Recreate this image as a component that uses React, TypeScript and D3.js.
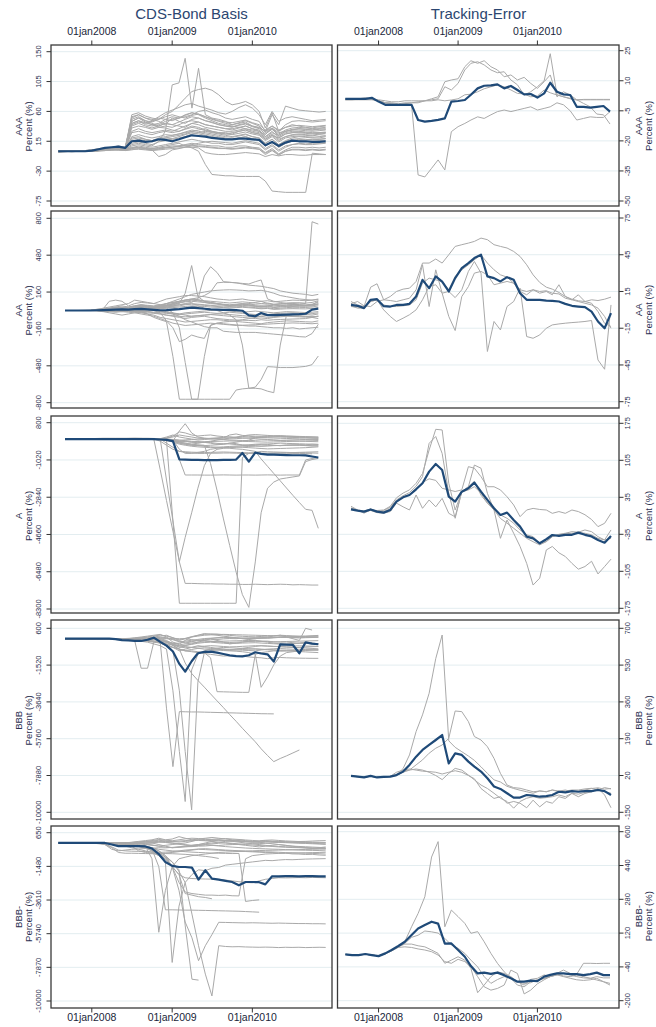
import React from "react";
import * as d3 from "d3";

const W = 656;
const H = 1027;

// monthly observations, Aug 2007 .. Dec 2010
const months = d3.range(41).map((i) => new Date(2007, 7 + i, 1));
const dateTicks = [new Date(2008, 0, 1), new Date(2009, 0, 1), new Date(2010, 0, 1)];
const ratings = ["AAA", "AA", "A", "BBB", "BBB-"];

// ---------- AAA ----------
const aaaBasisTicks = [-75, -30, 15, 60, 105, 150];
const aaaBasisMean = [0,0,0,0,0,1,3,5,6,7, 5,15,16,14,15,18,17,15,18,21, 24,23,22,20,19,18,18,19,19,18, 17,9,14,8,13,16,15,15,14,14,15];
const aaaBasisPeers = [
  [0,0,0,0,0,1,2,3,5,4, 6,52,55,50,48,45,40,50,45,42, 48,50,46,44,40,38,36,40,42,38, 35,30,38,32,36,40,38,36,35,37,38],
  [1,1,1,0,0,2,3,4,5,6, 5,48,52,46,42,38,42,40,38,36, 42,44,40,38,36,34,32,35,38,34, 30,22,28,24,30,32,34,33,32,34,33],
  [0,0,-1,0,1,1,2,3,4,5, 4,45,50,44,40,36,35,32,30,34, 38,36,32,30,28,28,26,30,32,28, 26,18,24,20,26,28,28,27,26,27,28],
  [-1,0,0,0,0,0,1,2,3,4, 3,40,44,42,45,50,48,52,50,55, 58,55,50,46,42,40,38,36,34,32, 30,25,35,22,28,30,30,29,28,28,29],
  [0,0,0,0,1,2,3,4,4,5, 5,12,14,12,10,14,16,18,20,22, 26,28,30,28,26,24,22,24,26,22, 20,12,18,10,16,20,22,21,20,20,22],
  [0,0,0,0,0,1,2,2,3,4, 3,8,10,8,6,8,10,12,14,16, 18,16,14,12,12,10,10,12,14,12, 10,2,8,0,6,10,12,11,12,12,13],
  [0,0,0,0,0,0,1,2,3,2, 2,5,6,5,4,5,6,8,8,10, 12,10,9,8,8,6,6,8,8,6, 5,-2,4,-4,2,6,6,5,6,5,6],
  [1,1,0,0,0,1,1,2,2,3, 3,6,6,4,2,-8,-5,2,4,6, 8,7,6,5,4,4,3,4,5,4, 3,-5,1,-6,0,2,2,1,2,1,2],
  [0,0,0,0,0,0,0,1,2,2, 1,3,3,2,1,2,3,4,5,6, 6,5,-2,-4,-5,-5,-4,-3,-2,-3, -4,-8,-5,-7,-5,-5,-6,-6,-5,-5,-5],
  [0,0,0,0,0,1,2,3,4,5, 4,30,34,30,28,30,32,30,34,38, 42,40,36,34,32,30,30,32,34,30, 28,20,26,18,22,24,25,24,23,25,24],
  [0,0,0,0,0,1,2,2,3,4, 3,10,12,10,8,15,30,100,103,140, 65,125,55,50,48,45,40,42,44,38, 36,30,35,28,30,32,32,31,30,31,32],
  [0,0,0,0,0,1,2,3,4,5, 4,45,50,46,44,48,55,60,70,80, 90,93,95,92,85,75,70,72,75,70, 60,35,58,30,40,45,46,45,44,45,46],
  [0,0,0,0,0,1,1,2,3,3, 2,5,8,6,4,6,8,10,12,8, 5,0,-20,-35,-36,-37,-37,-38,-38,-38, -38,-45,-60,-61,-62,-62,-62,-62,-3,-4,-5],
  [0,0,0,0,0,1,2,3,3,4, 3,42,46,40,38,40,45,48,50,52, 55,60,62,58,55,50,48,50,52,48, 45,30,55,40,68,65,62,61,60,59,60],
  [0,0,0,0,0,1,2,3,4,5, 4,50,55,50,46,52,58,62,66,70, 72,68,65,62,58,56,60,66,70,65, 55,40,60,45,50,52,50,48,46,47,48],
  [0,0,0,1,1,2,4,5,6,8, 6,20,22,18,16,20,22,24,26,28, 30,28,26,24,22,20,18,20,22,18, 16,8,14,6,12,16,18,17,18,18,19],
  [0,0,0,0,0,0,1,1,2,2, 2,4,5,4,3,4,5,6,8,9, 10,12,14,15,14,13,12,14,16,14, 12,4,10,2,8,10,11,10,10,11,12],
  [-2,-1,0,0,0,0,1,2,2,3, 3,35,38,36,33,36,38,36,40,44, 46,44,40,38,36,34,34,36,38,34, 32,22,30,20,26,28,29,28,27,28,28],
  [0,0,0,0,0,1,2,3,4,4, 3,28,30,27,25,28,30,28,30,33, 36,34,31,29,27,26,25,27,29,26, 24,16,22,14,20,22,23,22,21,22,23],
  [0,0,0,0,0,0,1,2,3,3, 2,22,25,22,20,22,25,24,26,29, 32,30,28,26,24,22,21,23,25,22, 20,12,18,10,15,18,19,18,17,18,19],
  [0,1,1,1,1,2,3,4,5,6, 5,38,42,38,35,38,42,40,44,48, 52,50,46,43,40,38,37,39,41,37, 34,26,33,24,30,33,34,33,32,33,34],
  [0,0,0,0,0,1,2,3,3,4, 3,15,18,16,14,17,20,19,22,25, 28,26,24,22,20,19,18,20,22,19, 17,8,14,6,12,15,16,15,15,16,16],
  [0,0,0,0,0,1,2,2,3,3, 2,55,58,53,50,48,52,55,52,50, 54,56,52,48,45,42,40,43,46,42, 38,28,34,26,32,35,36,35,34,35,36],
  [0,0,0,0,0,0,1,1,2,2, 1,2,4,3,2,3,5,6,7,8, 9,8,7,6,5,4,4,5,6,5, 3,-3,2,-5,0,3,3,2,3,2,3],
  [0,0,0,0,1,1,2,3,3,4, 4,18,20,18,16,18,20,22,24,26, 30,32,34,30,28,26,28,30,32,28, 26,18,24,16,22,25,26,25,24,26,27],
  [0,0,0,0,0,1,2,3,4,5, 4,42,46,43,40,42,48,46,50,54, 58,56,52,49,46,44,43,45,47,43, 40,32,38,30,36,38,39,38,37,38,39],
];
const aaaTeTicks = [-50, -35, -20, -5, 10, 25];
const aaaTeMean = [1,1,1,1,1.5,-0.4,-2,-2,-2,-2, -2,-9.6,-10.4,-10,-9.5,-8.8,-0.4,-0.1,0.4,3, 6.2,7.5,7.7,8.2,6.2,7.4,5.4,3.2,3.4,1.6, 3.7,9,4.5,3.2,2.9,-3,-3,-3.4,-3,-2.6,-5.4];
const aaaTePeers = [
  [0.5,0.5,0.8,1,1,0,-1,-1.5,-2,-1.5, -1,-1,0,1,2,9.5,10.4,11,17,20, 18.7,20,17,15.4,12,12.9,10.4,11.7,8.7,6.2, 9.5,12.9,2,4.5,2.9,0.5,0.5,0.5,0.5,0.5,0.5],
  [1,1,1,1.5,1,0,-1,-1,-1.5,-1, -1,-0.5,0,0.5,1,7,5.4,8.7,15.4,18.7, 19.5,17.9,15.4,14,14.5,10.4,8,2.9,4.5,7, 10,23.5,3,2,1,0.5,-1.3,-3,-6.6,-7,-11.6],
  [1,1,1,1,1,0.5,0,-0.5,-0.5,0, 0,0,0,0,0.5,0,0.4,1,3,3.3, 4.5,6,7,7.9,7,5.4,3.7,3.4,2,2.4, 5.4,4,2.9,2,1.2,0.4,0.7,0.7,0.7,0.7,0.7],
  [0.5,0.5,0.5,0.5,0.5,0,-1,-1.5,-2,-1.5, -2,-37,-38,-33.7,-29.5,-34.5,-15.4,-12.9,-11.3,-9.6, -8,-8.8,-7,-5.4,-4.6,-5.4,-4.6,-3.8,-3,-4.6, -3.8,-3,-1,-2,-5,-9.6,-8.8,-8,-8.3,-8.3,-5.4],
];

// ---------- AA ----------
const aaBasisTicks = [-800, -480, -160, 160, 480, 800];
const aaBasisMean = [0,0,0,0,0,2,4,6,8,10, 8,12,14,10,6,2,4,8,12,18, 25,20,15,10,8,5,5,4,-2,-43, -50,-22,-40,-40,-38,-36,-34,-32,-28,8,16];
const aaBasisPeers = [
  [0,0,0,2,5,10,15,80,90,80, 40,60,70,65,60,50,40,60,80,90, 100,95,80,70,60,50,40,45,50,60, 70,80,60,50,55,60,60,65,60,770,750],
  [0,0,0,0,0,-5,-10,-20,-30,-40, -30,-20,-10,-30,-60,-80,-97,-400,-770,-770, -770,-770,-770,-770,-770,-770,-770,-690,-680,-675, -675,-680,-700,-713,-300,-40,-50,-45,-50,-55,-50],
  [0,0,0,0,0,0,5,10,5,0, -10,-5,0,10,20,30,20,-20,-150,-450, -770,-770,-400,-130,-110,-100,-95,-90,-80,-70, -60,-50,-40,-40,-35,-40,-30,-30,-35,-40,-30],
  [0,0,0,0,0,5,10,15,20,10, 0,10,20,10,0,-20,-90,-150,-270,-250, -213,-230,-242,-126,-110,-115,-120,-125,-130,-135, -135,-140,-145,-150,-150,-155,-150,-160,-155,-150,-145],
  [0,0,0,0,0,0,0,5,10,15, 10,5,0,5,10,20,30,20,10,20, 30,40,20,10,0,-20,-40,-80,-300,-675, -665,-600,-487,-490,-495,-495,-495,-490,-485,-470,-395],
  [0,0,0,0,0,5,10,20,30,20, 10,30,40,30,20,30,40,50,60,150, 390,120,80,70,60,50,40,50,60,50, 40,30,40,50,45,40,35,40,45,50,55],
  [0,0,0,0,0,0,5,10,15,20, 15,20,25,20,15,25,30,40,50,60, 70,100,300,380,330,250,245,240,230,220, 215,210,200,190,170,160,150,145,140,130,140],
  [0,0,0,0,0,5,10,20,30,40, 30,40,50,45,40,50,60,70,80,90, 100,110,130,160,240,245,244,240,235,230, 250,265,100,80,70,60,55,50,45,40,60],
  [0,0,0,0,0,0,-5,-10,-10,-5, 0,5,10,5,0,-10,-20,-30,-50,-80, -100,-120,-140,-150,-150,-180,-185,-190,-190,-190, -190,-195,-200,-205,-210,-215,-220,-227,-230,-200,-120],
  [0,0,0,0,0,10,20,30,40,50, 60,90,80,70,60,80,100,110,120,130, 130,125,120,110,100,95,90,95,100,90, 85,80,85,75,80,85,90,88,85,90,100],
  [0,0,0,0,0,0,5,10,15,10, 5,15,25,20,15,20,30,35,40,50, 55,50,45,40,35,30,30,32,35,30, 25,20,25,15,20,25,28,27,26,30,40],
  [0,0,0,0,0,0,-5,-10,-15,-10, -5,-10,-20,-30,-40,-60,-70,-80,-90,-100, -95,-90,-85,-80,-80,-85,-90,-95,-100,-105, -110,-115,-105,-100,-95,-90,-92,-95,-98,-100,-90],
  [0,0,0,0,0,0,0,5,10,5, 0,-5,0,5,10,0,-10,-20,-30,-40, -50,-45,-40,-35,-30,-30,-35,-40,-45,-50, -55,-50,-60,-55,-50,-45,-48,-50,-52,-55,-50],
  [0,0,0,0,0,5,10,15,20,25, 30,40,50,40,30,40,50,60,70,80, 90,85,70,60,55,50,45,48,50,45, 40,35,40,30,35,40,45,44,42,50,80],
  [0,0,0,0,0,5,10,15,20,25, 20,30,40,35,30,40,60,80,100,120, 140,150,160,170,175,178,180,178,175,170, 172,175,165,150,130,120,110,100,95,90,95],
  [0,0,0,0,0,0,0,0,5,5, 5,0,-5,-10,-20,-30,-40,-50,-60,-70, -60,-55,-50,-60,-70,-75,-80,-82,-84,-86, -88,-80,-85,-80,-78,-76,-74,-72,-70,-60,-70],
  [0,0,0,0,0,0,5,10,20,15, 10,20,30,25,20,30,40,45,50,55, 60,55,50,45,40,40,35,40,45,40, 35,30,35,25,30,35,38,37,36,40,50],
  [0,0,0,0,0,0,-5,-5,-10,-5, 0,-10,-15,-20,-25,-30,-40,-45,-50,-55, -50,-45,-40,-35,-40,-45,-50,-55,-60,-65, -70,-65,-70,-60,-55,-50,-52,-55,-58,-60,-50],
  [0,0,0,0,0,5,5,10,10,15, 20,25,35,30,25,35,45,55,65,75, 80,75,70,65,60,55,50,55,60,55, 50,45,50,40,45,50,52,50,48,55,70],
  [0,0,0,0,0,0,0,-5,-5,0, 5,0,-5,-10,-15,-20,-25,-30,-35,-30, -25,-20,-15,-20,-25,-20,-15,-20,-25,-30, -35,-30,-35,-28,-25,-22,-20,-25,-30,-28,-20],
  [0,0,0,0,0,0,5,5,10,10, 5,10,15,12,10,15,20,25,30,35, 40,38,35,30,28,25,22,25,28,24, 20,15,18,10,12,15,16,15,14,18,25],
  [0,0,0,0,0,0,0,0,-5,-10, -15,-20,-30,-40,-50,-70,-90,-110,-120,-130, -125,-120,-115,-110,-115,-120,-125,-130,-128,-126, -124,-120,-118,-115,-112,-110,-108,-110,-112,-115,-110],
  [0,0,0,0,0,5,10,15,25,30, 25,35,45,40,35,45,60,70,80,90, 95,90,85,80,75,70,65,70,75,70, 65,60,65,55,60,65,68,66,64,70,85],
  [0,0,0,0,0,0,0,5,5,5, 0,-5,-10,-5,0,-5,-15,-25,-30,-20, -15,-10,-5,0,5,0,-5,-10,-15,-10, -5,-10,-15,-20,-15,-10,-12,-15,-18,-15,-10],
];
const aaTeTicks = [-75, -45, -15, 15, 45, 75];
const aaTeMean = [4,3.3,1.4,8.2,8.7,3,2.7,4,4,4.9, 10.9,24.5,17.7,27.3,23,15,25.9,34,38.2,42.3, 45,27.3,25.9,23.2,26.7,24.5,13.6,8.2,8.2,8.2, 7.6,7.4,6.8,4.9,3.3,2.7,2.2,-1.4,-9.5,-15,-2.7];
const aaTePeers = [
  [6.8,4,2.7,18.5,21.3,8.2,10.9,15,16.9,17.7, 23.2,38.2,38.2,41.5,38.2,45,51.8,53.2,54.5,55.9, 58.6,57.3,53.2,51.8,50.5,47.7,43.6,36.8,28.6,22.4, 18.5,16.9,14.2,10.9,8.7,7.4,6.8,8.2,7.6,8.7,10.4],
  [5,6.8,3.3,2.7,6.8,8.2,7.6,6.8,8.2,9.5, 16.4,36.8,2.7,32.7,13.6,15,10,16.4,31.4,39.5, 30,-34,-9.5,-16.4,2.7,6.8,17.7,-21.8,-23.2,-20.5, -15,-12.3,-11.5,-10.9,-10.4,-10,-9.5,-8.7,-40.9,-48.5,4],
  [2.7,2.2,1.4,6.8,8.2,4,2.7,2.7,3.3,4, 8.2,21.8,25.9,24.5,23.2,16.4,27.3,32.7,36.8,40.9, 45,38.2,32.7,28.6,26.7,21.8,16.4,15,16.4,13.6, 15,12.3,20.5,10.9,8.2,12.3,6.8,5.4,-1.4,-11,-13.6],
  [3.3,1.4,1.4,6.8,8.2,0,-5.4,-9.5,-6.8,-4, 0,8.2,19,20.5,13.6,-5.4,-16.9,10.9,19,30, 31.4,28.6,20.5,21.8,23.2,21.8,15,12.3,16.4,15, 15.6,13.6,13,9.5,8.2,6.8,5.4,4,1.4,-5.4,-15],
];

// ---------- A ----------
const aBasisTicks = [-8300, -6480, -4660, -2840, -1020, 800];
const aBasisMean = [0,0,0,0,0,0,0,0,0,0, 0,0,0,0,0,-20,-40,-100,-990,-1000, -1020,-1020,-1030,-1030,-1030,-1020,-1020,-1000,-680,-1100, -660,-720,-760,-760,-770,-780,-790,-790,-800,-850,-900];
const aBasisPeers = [
  [0,0,0,0,0,0,0,0,0,0, 0,0,0,0,0,0,-50,-4000,-8020,-8020, -8020,-8020,-8020,-8020,-8020,-8020,-8020,-8020,-900,-700, -650,-600,-620,-630,-640,-650,-660,-660,-670,-680,-690],
  [0,0,0,0,0,0,0,0,0,0, 0,0,0,0,-30,0,-2000,-4000,-6000,-7050, -7050,-7060,-7070,-7070,-7080,-7080,-7090,-7090,-7100,-7100, -7090,-7100,-7110,-7100,-7090,-7100,-7120,-7110,-7120,-7130,-7130],
  [0,0,0,0,0,0,0,0,0,0, 0,0,0,0,0,-1500,-3000,-4500,-5990,-4800, -3600,-2400,-1300,-700,-500,-450,-420,-400,-380,-360, -350,-340,-330,-320,-310,-300,-290,-300,-310,-320,-330],
  [0,0,0,0,0,0,0,0,0,0, 0,0,0,0,0,0,-30,-80,-150,-200, -250,-280,-300,-1200,-2500,-3900,-5200,-6500,-7600,-8220, -6000,-3600,-2400,-2100,-1950,-1900,-1850,-1800,-1100,-1000,-950],
  [0,0,0,0,0,0,0,0,0,0, 0,0,0,0,0,0,0,-100,-1000,-1755, -1755,-1755,-1760,-1760,-1755,-1750,-1755,-1760,-1755,-1755, -1760,-1755,-1750,-1755,-1760,-1755,-1755,-1755,-1020,-950,-900],
  [0,0,0,0,0,0,0,0,0,0, 0,0,0,0,0,0,-50,-100,-200,-250, -300,-320,-350,-380,-400,-420,-450,-480,-500,-550, -600,-970,-1330,-1680,-2040,-2390,-2750,-3100,-3430,-3480,-4360],
  [0,0,0,0,0,0,0,0,0,0, 0,0,0,0,-20,-50,-80,-100,400,750, 300,100,50,20,0,-20,-50,-60,-70,-80, -60,-40,-50,-60,-70,-80,-90,-100,-110,-120,-130],
  [20,20,20,20,20,30,40,40,40,40, 40,40,40,40,30,20,0,-100,-200,-250, -300,-310,-320,-300,-280,-250,-200,-150,-100,-50, 50,100,120,110,100,90,80,70,60,50,40],
  [0,0,0,0,0,0,0,0,0,0, 10,20,30,20,10,0,-200,-400,-600,-650, -680,-700,-700,-690,-690,-680,-680,-690,-700,-700, -700,-690,-690,-680,-680,-690,-700,-700,-710,-720],
  [0,0,0,0,0,0,0,0,0,0, 0,0,0,0,0,0,-50,-100,-150,-200, -250,-200,-150,-100,-50,0,50,100,150,200, 220,200,180,160,150,140,130,120,110,100,90],
  [0,0,0,0,0,0,0,10,10,0, 0,0,0,10,20,0,-30,-80,-120,-100, -150,-180,-160,-200,-260,-240,-200,-220,-300,-280, -250,-240,-260,-300,-320,-310,-290,-300,-320,-340,-330],
  [0,0,0,0,0,0,0,0,10,20, 30,40,30,20,10,20,50,150,350,300, 200,150,180,200,150,120,100,80,120,150, 100,80,90,110,130,120,100,90,80,60,50],
  [0,0,0,0,0,0,0,0,0,0, 0,0,0,0,0,0,0,-50,-500,-700, -700,-650,-600,-500,-450,-420,-400,-380,-400,-420, -440,-460,-480,-470,-460,-450,-440,-430,-420,-400,-380],
  [0,0,0,0,0,0,0,0,0,0, 0,0,0,0,0,20,100,200,100,50, 0,-50,-20,0,30,60,200,250,180,150, 140,130,150,160,170,150,140,130,120,110,100],
  [0,0,0,0,0,0,0,0,0,0, 0,0,0,0,0,0,-20,-50,-100,-120, -150,-140,-130,-120,-110,-100,-90,-100,-110,-120, -130,-140,-150,-140,-130,-120,-110,-100,-90,-80,-70],
  [0,0,0,0,0,0,0,0,0,0, 0,0,0,0,0,0,0,-20,-50,-80, -110,-120,-160,-170,-210,-230,-240,-270,-280,-310, -320,-350,-330,-310,-320,-290,-300,-270,-280,-250,-260],
  [0,0,0,0,0,0,0,0,0,0, 0,0,0,0,0,0,50,100,200,150, 100,50,30,20,10,0,10,20,40,60, 80,70,60,50,40,30,20,10,0,-10,-20],
  [0,0,0,0,0,0,0,0,0,0, 0,0,0,0,0,-100,-300,-500,-600,-620, -640,-650,-660,-650,-640,-630,-640,-650,-660,-670, -680,-690,-700,-690,-680,-670,-660,-650,-640,-630,-620],
  [0,0,0,0,0,0,0,0,0,0, 0,0,0,0,0,0,0,-30,-60,-40, -20,0,20,40,60,80,100,80,60,40, 20,0,-20,-40,-60,-50,-40,-30,-20,-10,0],
  [0,0,0,0,0,0,0,0,0,0, 0,0,0,0,0,0,-50,-150,-250,-300, -350,-380,-400,-420,-400,-380,-360,-340,-320,-300, -280,-260,-240,-220,-200,-210,-220,-230,-240,-250,-260],
];
const aTeTicks = [-175, -105, -35, 35, 105, 175];
const aTeMean = [12.3,9.8,7.9,12,7.9,6,11,26.8,35,39.4, 50.1,61.5,83.6,98,86.7,36.3,26.8,45.7,52,62.8, 45.7,30,14.2,1.6,6,-7.9,-20.5,-39.4,-42.6,-52, -44.4,-36.3,-38,-36,-36,-31.8,-36,-39,-45.7,-50.8,-38];
const aTePeers = [
  [18,11,5,11,10,11,18,34,43,49, 61.5,80,124.5,163.6,162.4,61.5,11,45,49,55, 43,24,11,-5,-14,-23.6,-33,-42.6,-49,-55, -49,-39.4,-36,-34,-33,-32,-33,-36,-42.6,-45.7,-26.8],
  [15,10,7,12,9,10,16,30,38,44, 56,74,137,150,118,42.6,-4.7,45.7,55,65, 39,24,14,1.6,-4.7,-14,-26.8,-36,-39.4,-52, -48.5,-39.4,-35,-33,-30,-31,-26.8,-30,-39.4,-45.7,-42.6],
  [14,11,9,13,8,8,13,28,36,40, 52,63,70,67,52,49,46,49,93,90, 74,55,55,49,36,20.5,-1.6,11,14,12, 11,4.7,8,4.7,11,8,2,-7,-20.5,-14.2,4.7],
  [13,10,8,10,6,5,8,24,17,11, 39.4,14.2,30,17,33,4.7,-2,45.7,55,96, 90,42.6,11,-42.6,-8,-33,-58,-90,-131,-118, -64.6,-58,-70,-77,-90,-101,-96,-86,-110,-96,-82],
];

// ---------- BBB ----------
const bbbBasisTicks = [-10000, -7880, -5760, -3640, -1520, 600];
const bbbBasisMean = [0,0,0,0,0,0,0,0,-20,-80, -100,-120,-130,-60,60,-180,-400,-740,-1450,-1900, -1300,-840,-760,-745,-800,-880,-960,-1000,-1020,-950, -780,-850,-900,-1320,-322,-340,-360,-840,-210,-280,-320];
const bbbBasisPeers = [
  [0,0,0,0,0,0,0,0,-50,-80, -100,-100,-1700,-1700,-200,-100,-200,-300,-250,-200, -150,-100,-120,-150,-180,-200,-220,-200,-180,-160, -150,-140,-160,-180,-170,-160,-150,-140,-130,-120,-110],
  [0,0,0,0,0,0,0,0,0,-50, -60,-80,-100,-120,-150,-200,-4000,-7370,-4200,-4210, -4220,-4220,-4230,-4240,-4250,-4260,-4270,-4280,-4290,-4300, -4310,-4320,-4325,-4330],
  [0,0,0,0,0,0,0,0,0,0, -50,-100,-150,-200,-300,-400,-600,-3000,-6500,-9380, -1800,-900,-700,-600,-550,-500,-520,-540,-560,-580, -600,-620,-640,-660,-680,-700,-720,-740,-760,-780,-800],
  [0,0,0,0,0,0,0,0,0,0, 0,-50,-100,-150,-200,-250,-300,-700,-3000,-6500, -9860,-2500,-800,-700,-650,-600,-620,-640,-660,-680, -700,-650,-600,-580,-560,-540,-520,-500,-480,-460,-450],
  [0,0,0,0,0,0,0,0,0,0, 0,0,-50,-100,-150,-250,-400,-500,-600,-1400, -2000,-2400,-2790,-3180,-3580,-3970,-4370,-4760,-5160,-5550, -5940,-6340,-6730,-7080,-6900,-6750,-6580,-6410],
  [0,0,0,0,0,0,0,0,0,0, 0,0,-50,-100,-150,-250,-400,-500,-600,-700, -700,-750,-800,-1100,-3050,-3060,-3070,-3080,-3090,-3090, -900,-800,-750,-700,-720,-700,-680,-660,-650,-640,-630],
  [0,0,0,0,0,0,0,0,0,0, 0,-30,-60,-100,-150,-200,-300,-350,-400,-450, -500,-550,-600,-620,-650,-680,-700,-720,-750,-800, -900,-2800,-2200,-1500,-1000,-800,-750,-700,-680,-660,-650],
  [0,0,0,0,0,0,0,0,0,0, 0,0,-20,-40,-60,-100,-200,-400,-600,-700, -750,-800,-850,-900,-950,-1000,-980,-990,-1000,-1050, -1080,-1100,-1150,-1100,-1080,-1100,-1110,-1120,-1125,-1130,-1130],
  [0,0,0,0,0,0,0,0,0,0, 0,50,100,150,200,250,100,-200,-300,-100, 100,200,300,250,200,150,100,50,0,-50, 0,50,100,150,200,100,0,-100,600,500],
  [0,0,0,0,0,0,0,0,0,0, -50,-100,-50,0,50,0,-100,-300,-500,-400, -300,-200,-100,0,-100,-200,-300,-250,-200,-150, -100,-150,-200,-250,-300,-350,-300,-250,-200,-250,-300],
  [0,0,0,0,0,0,0,0,0,0, 0,0,0,0,0,-100,-300,-500,-700,-600, -500,-400,-450,-500,-550,-600,-650,-600,-550,-500, -450,-400,-420,-440,-460,-480,-500,-520,-540,-560,-580],
  [0,0,0,0,0,0,0,0,0,0, 20,40,60,80,100,150,200,50,-100,0, 100,150,200,220,240,250,240,230,220,210, 200,190,180,170,160,150,140,130,120,110,100],
  [0,0,0,0,0,0,0,0,0,0, 0,0,-20,-40,-60,-80,-150,-250,-350,-300, -250,-200,-180,-160,-150,-140,-130,-120,-110,-100, -120,-150,-140,-180,-200,-190,-230,-260,-250,-300,-310],
  [0,0,0,0,0,0,0,0,0,0, 0,0,0,0,0,0,0,0,0,0, -50,-120,-90,-60,-50,-10,10,0,30,50, 60,40,30,50,80,70,60,50,60,70,80],
  [0,0,0,0,0,0,0,0,0,0, 0,0,-30,-10,40,90,60,-20,-150,-250, -180,-90,-40,10,60,90,70,55,30,15, 5,25,45,70,90,110,115,130,150,170,190],
  [0,0,0,0,0,0,0,0,0,-20, -40,-60,-50,-30,0,-50,-150,-300,-420,-380, -330,-260,-220,-200,-230,-260,-280,-270,-250,-240, -230,-250,-270,-290,-310,-300,-280,-270,-260,-270,-290],
  [0,0,0,0,0,0,0,0,0,0, 0,10,30,50,80,60,20,-60,-180,-140, -90,-40,10,30,40,60,50,40,20,10, 30,50,60,70,90,80,70,60,70,90,100],
  [0,0,0,0,0,0,0,0,0,0, 0,0,-10,-30,-50,-100,-200,-350,-480,-520, -500,-470,-430,-400,-420,-450,-470,-460,-440,-420, -400,-410,-430,-450,-440,-430,-420,-410,-420,-430,-440],
  [0,0,0,0,0,0,0,0,0,0, 0,20,60,110,160,210,150,60,-50,20, 120,190,250,280,270,230,190,160,140,120, 110,130,150,170,200,180,160,150,140,150,160],
  [0,0,0,0,0,0,0,0,0,0, -30,-60,-80,-60,-20,-80,-200,-380,-600,-680, -620,-560,-520,-560,-600,-640,-670,-650,-620,-600, -580,-600,-620,-640,-660,-650,-640,-630,-620,-640,-660],
];
const bbbTeTicks = [-150, 20, 190, 360, 530, 700];
const bbbTeMean = [18,15,11.6,18,11,14,15,22,38,69, 107,138,161,184,207,76,122,115,84,61, 38,7,-31,-42,-62,-82,-82,-70,-73,-78, -75,-70,-55,-58,-52,-55,-52,-52,-47,-52,-70];
const bbbTePeers = [
  [18,15,12,18,12,14,15,22,52,115, 223,300,400,560,669,180,150,130,110,90, 60,30,0,-10,-30,-40,-48,-55,-62,-51, -55,-47,-52,-47,-55,-52,-47,-40,-37,-43,-40],
  [18,16,12,16,12,14,16,24,40,45, 69,92,123,146,161,192,318,315,269,200, 184,153,99,30,-24,-36,-39,-47,-55,-52, -55,-47,-55,-52,-47,-47,-42,-39,-47,-36,-42],
  [18,15,12,18,12,14,16,35,45,50, 45,40,38,35,27,35,42,35,20,5, -40,-63,-86,-78,-108,-100,-108,-129,-94,-125, -100,-108,-78,-86,-63,-78,-63,-55,-39,-70,-129],
  [18,14,12,17,11,13,15,20,35,45, 50,45,35,20,1,30,53,45,22,0, -24,-40,-62,-85,-100,-131,-100,-85,-78,-85, -82,-78,-70,-78,-62,-66,-58,-55,-42,-55,-62],
];

// ---------- BBB- ----------
const bbbmBasisTicks = [-10000, -7870, -5740, -3610, -1480, 650];
const bbbmBasisMean = [0,0,0,0,0,0,0,0,-100,-200, -200,-200,-200,-220,-350,-700,-1200,-1450,-1520,-1520, -1560,-2320,-1725,-2255,-2320,-2400,-2470,-2680,-2470,-2470, -2480,-2620,-2110,-2110,-2100,-2100,-2110,-2100,-2100,-2110,-2110];
const bbbmBasisPeers = [
  [0,0,0,0,0,0,0,0,-100,-200, -200,-200,-200,-200,-1000,-5650,-3000,-1500,-1000,-900, -800,-750,-700,-650,-600,-580,-560,-540,-520,-500, -480,-470,-460,-450,-440,-430,-420,-410,-400,-390,-380],
  [0,0,0,0,0,0,0,0,0,0, -200,-220,-250,-300,-500,-800,-1200,-7560,-4000,-2500, -2000,-1700,-1750,-1600,-1550,-1400,-1350,-1300,-1250,-1200, -1150,-1100,-1120,-1080,-1050,-1060,-1040,-1020,-1010,-1000,-990],
  [0,0,0,0,0,0,0,0,0,0, -100,-150,-200,-300,-400,-600,-900,-1200,-1700,-5200, -8620,-8680],
  [0,0,0,0,0,0,0,0,0,0, -100,-150,-200,-250,-300,-500,-800,-1200,-1800,-2500, -4500,-6500,-8300,-9680,-6500,-6550,-6570,-6560,-6580,-6590, -6600,-6590,-6600,-6620,-6600,-6610,-6600,-6620,-6610,-6600,-6610],
  [0,0,0,0,0,0,0,0,0,0, 0,-50,-100,-200,-300,-500,-800,-1500,-3000,-5000, -6000,-7450,-6500,-5800,-5020,-5030,-5040,-5050,-5060,-5050, -5060,-5070,-5080,-5070,-5080,-5090,-5100,-5100,-5110,-5110,-5120],
  [0,0,0,0,0,0,0,0,0,0, -100,-150,-200,-300,-400,-1500,-4230,-4230,-4240,-4250, -4250,-4260,-4270,-4280,-4290,-4300,-4310,-4320,-4340,-4360, -4380],
  [0,0,0,0,0,0,0,0,0,0, -200,-300,-400,-500,-600,-800,-1000,-1500,-2000,-3200, -3300,-3400,-3450,-3530],
  [0,0,0,0,0,0,0,0,0,0, -50,-100,-150,-200,-300,-400,-450,-500,-520,-550, -580,-600,-620,-640,-650,-660,-670,-665,-3700,-3640, -3600],
  [0,0,0,0,0,0,0,0,0,0, -50,-100,-200,-300,-500,-700,-1000,-1500,-2500,-3100, -3200,-3250,-3300,-3300,-3320,-3300,-3340,-3350,-1000,-800, -750,-700,-680,-660,-650,-640,-630,-620,-610,-600,-590],
  [0,0,0,0,0,0,0,0,0,0, -50,-100,-200,-300,-400,-600,-900,-1500,-2000,-2200, -2250,-2270,-2280,-2290,-2300,-2350,-2400,-2450,-2500,-2520, -2400,-2300,-2250,-2200,-2210,-2200,-2190,-2200,-2180,-2190,-2200],
  [0,0,0,0,0,0,0,0,0,-100, -100,-200,-500,-600,-650,-660,-670,-680,-700,-720, -750,-800,-850,-900,-980],
  [0,0,0,0,0,0,0,0,0,0, 0,50,100,150,200,300,200,250,400,300, 200,250,300,350,300,250,200,150,100,50, 100,150,100,80,60,40,20,0,-20,-40,-60],
  [0,0,0,0,0,0,-50,-100,-300,-600, -650,-650,-660,-670,-680,-700,-650,-600,-550,-500, -450,-400,-420,-440,-460,-480,-500,-520,-540,-560, -580,-610,-600,-650,-640,-690,-700,-730,-720,-760,-780],
  [0,0,0,0,0,0,0,0,0,0, 0,0,-50,-100,-150,-200,-150,-100,-50,0, 100,200,150,100,50,0,-50,-100,-150,-200, -250,-200,-150,-100,-150,-200,-250,-300,-350,-300,-250],
  [0,0,0,0,0,0,0,0,0,0, 0,20,40,60,80,100,50,0,-50,-100, -150,-100,-50,0,50,100,150,200,150,100, 50,0,-50,-100,-150,-200,-220,-240,-260,-280,-300],
  [0,0,0,0,0,0,0,0,0,0, 0,0,0,0,0,-100,-200,-300,-250,-200, -150,-100,0,100,200,150,100,50,0,-50, -100,-150,-200,-220,-240,-260,-280,-300,-320,-340,-360],
  [0,0,0,0,0,0,0,-100,-400,-500, -450,-400,-380,-350,-340,-300,-310,-280,-250,-240, -230,-200,-190,-150,-160,-120,-100,-90,-60,-50, -40,-20,10,30,50,60,90,100,120,140,150],
  [0,0,0,0,0,0,0,0,-50,-100, -80,-60,-40,-20,0,50,100,80,120,150, 180,160,140,160,180,150,120,100,80,60, 70,90,110,100,80,60,40,30,20,10,0],
  [0,0,0,0,0,0,-20,-60,-250,-450, -500,-520,-530,-540,-560,-600,-580,-550,-500,-450, -420,-380,-360,-390,-420,-450,-470,-490,-510,-530, -550,-560,-570,-590,-610,-620,-640,-650,-660,-680,-700],
  [0,0,0,0,0,0,0,0,0,0, 10,30,60,100,150,220,180,140,200,260, 300,280,250,230,260,280,250,220,190,160, 140,170,190,160,130,110,90,70,50,40,30],
  [0,0,0,0,0,0,0,0,0,0, 0,0,-30,-70,-120,-200,-260,-300,-280,-240, -200,-160,-120,-150,-190,-230,-260,-290,-320,-340, -360,-370,-390,-400,-420,-430,-450,-460,-470,-480,-500],
  [0,0,0,0,0,0,0,0,0,-50, -60,-40,-20,0,20,60,30,-20,-80,-140, -180,-150,-100,-60,-20,10,-20,-60,-100,-130, -160,-190,-220,-250,-270,-290,-300,-320,-330,-350,-370],
  [0,0,0,0,0,0,0,0,0,0, 0,20,50,80,120,170,130,90,60,100, 140,190,230,210,180,160,140,120,90,70, 50,80,60,40,20,0,-20,-30,-50,-70,-90],
];
const bbbmTeTicks = [-200, -40, 120, 280, 440, 600];
const bbbmTeMean = [19,16,16,21,16,11,24,40,59,79, 111,142,158,174,165,70,71,40,8,-36, -71,-67,-73,-67,-79,-94,-110,-110,-105,-107, -86,-78,-71,-71,-74,-74,-79,-74,-67,-79,-79];
const bbbmTePeers = [
  [19,16,16,20,16,12,24,35,55,80, 150,213,292,480,553,150,229,198,166,119, 127,79,24,-23,-63,-94,-110,-118,-115,-100, -95,-86,-70,-55,-71,-74,-23,-23,-24,-23,-23],
  [19,16,16,20,16,12,22,38,55,72, 100,110,130,126,120,95,64,48,24,-8, -40,-86,-118,-100,-86,-94,-126,-134,-110,-103, -95,-86,-78,-71,-78,-86,-92,-94,-86,-92,-92],
  [19,16,16,20,16,12,24,40,55,68, 68,60,55,40,24,-23,-8,8,-8,-47, -162,-126,-86,-63,-71,-86,-110,-126,-99,-94, -78,-86,-74,-83,-86,-78,-86,-94,-102,-110,-118],
  [19,16,16,20,16,12,22,36,52,55, 52,45,40,32,16,-15,-23,-4,-15,-39, -86,-134,-150,-142,-126,-55,-71,-168,-150,-120, -101,-86,-78,-86,-94,-101,-104,-101,-94,-110,-126],
];

// ---------- layout ----------
const rowBox = [[45, 206], [211, 408], [416, 613], [620, 819], [826, 1008]];
const leftTickPx = [[201, 51.7], [402.7, 218.3], [609, 422.7], [812.3, 628.3], [1001, 832.7]];
const rightTickPx = [[201, 50.7], [401.7, 218], [608.3, 423.3], [812.3, 628.3], [1000.7, 831.7]];
const font = "'Liberation Sans', Arial, Helvetica, sans-serif";
const fmtDate = d3.timeFormat("%d%b%Y");

type Series = (number | null)[];

function Panel({ side, row, ticks, mean, peers }: { side: string; row: number; ticks: number[]; mean: Series; peers: Series[] }) {
  const left = side === "left";
  const [top, bottom] = rowBox[row];
  const [bx0, bx1] = left ? [51, 332] : [337.5, 619];
  const edge = row === 0 || row === 4;
  const xr = left ? (edge ? [58.2, 325.7] : [65, 318.3]) : edge ? [345.3, 610] : [351, 611];
  const x = d3.scaleTime().domain([months[0], months[40]]).range(xr);
  const y = d3
    .scaleLinear()
    .domain([ticks[0], ticks[ticks.length - 1]])
    .range(left ? leftTickPx[row] : rightTickPx[row]);
  const line = d3
    .line<number | null>()
    .defined((v) => v !== null && v !== undefined)
    .x((_, i) => x(months[i]))
    .y((v) => y(v as number));
  const axisX = left ? bx0 : bx1;
  const dir = left ? -1 : 1;
  const midY = (y(ticks[0]) + y(ticks[ticks.length - 1])) / 2;
  const clipId = `clip-${side}-${row}`;
  const txt = "#2a2f4f";
  return (
    <g>
      <defs>
        <clipPath id={clipId}>
          <rect x={bx0} y={top} width={bx1 - bx0} height={bottom - top} />
        </clipPath>
      </defs>
      {ticks.map((t) => (
        <line key={"g" + t} x1={bx0} x2={bx1} y1={y(t)} y2={y(t)} stroke="#e3edf0" strokeWidth={1} />
      ))}
      <g clipPath={`url(#${clipId})`} fill="none" strokeLinejoin="round">
        {peers.map((s, k) => (
          <path key={k} d={line(s) ?? ""} stroke="#a9a9a9" strokeWidth={1} />
        ))}
        <path d={line(mean) ?? ""} stroke="#1f4a78" strokeWidth={2.2} />
      </g>
      <rect x={bx0} y={top} width={bx1 - bx0} height={bottom - top} fill="none" stroke="#3a3a3a" strokeWidth={1.3} />
      {ticks.map((t) => (
        <g key={"t" + t}>
          <line x1={axisX} x2={axisX + dir * 4.5} y1={y(t)} y2={y(t)} stroke="#333" strokeWidth={1} />
          <text
            transform={`translate(${left ? 38 : 627.5},${y(t)}) rotate(-90)`}
            textAnchor="middle"
            dominantBaseline="central"
            fontSize={7.5}
            fill={txt}
          >
            {t}
          </text>
        </g>
      ))}
      <text transform={`translate(${left ? 18 : 638},${midY}) rotate(-90)`} textAnchor="middle" dominantBaseline="central" fontSize={9.5} fill={txt}>
        {ratings[row]}
      </text>
      <text transform={`translate(${left ? 28 : 648},${midY}) rotate(-90)`} textAnchor="middle" dominantBaseline="central" fontSize={9.5} fill={txt}>
        Percent (%)
      </text>
      {row === 0 &&
        dateTicks.map((d) => (
          <g key={"xt" + d.getFullYear()}>
            <line x1={x(d)} x2={x(d)} y1={top} y2={top - 4.5} stroke="#333" />
            <text x={x(d)} y={35} textAnchor="middle" fontSize={10.5} fill="#1a1f3a">
              {fmtDate(d).toLowerCase()}
            </text>
          </g>
        ))}
      {row === 4 &&
        dateTicks.map((d) => (
          <g key={"xb" + d.getFullYear()}>
            <line x1={x(d)} x2={x(d)} y1={bottom} y2={bottom + 4.5} stroke="#333" />
            <text x={x(d)} y={1020.5} textAnchor="middle" fontSize={10.5} fill="#1a1f3a">
              {fmtDate(d).toLowerCase()}
            </text>
          </g>
        ))}
    </g>
  );
}

const basisPanels = [
  { ticks: aaaBasisTicks, mean: aaaBasisMean, peers: aaaBasisPeers },
  { ticks: aaBasisTicks, mean: aaBasisMean, peers: aaBasisPeers },
  { ticks: aBasisTicks, mean: aBasisMean, peers: aBasisPeers },
  { ticks: bbbBasisTicks, mean: bbbBasisMean, peers: bbbBasisPeers },
  { ticks: bbbmBasisTicks, mean: bbbmBasisMean, peers: bbbmBasisPeers },
];
const tePanels = [
  { ticks: aaaTeTicks, mean: aaaTeMean, peers: aaaTePeers },
  { ticks: aaTeTicks, mean: aaTeMean, peers: aaTePeers },
  { ticks: aTeTicks, mean: aTeMean, peers: aTePeers },
  { ticks: bbbTeTicks, mean: bbbTeMean, peers: bbbTePeers },
  { ticks: bbbmTeTicks, mean: bbbmTeMean, peers: bbbmTePeers },
];

export default function App() {
  return (
    <svg
      width={W}
      height={H}
      viewBox={`0 0 ${W} ${H}`}
      style={{ position: "absolute", left: 0, top: 0, background: "#fff", fontFamily: font }}
    >
      <rect width={W} height={H} fill="#fff" />
      <text x={191.5} y={18.5} textAnchor="middle" fontSize={15} fill="#2b4670">
        CDS-Bond Basis
      </text>
      <text x={478.5} y={18.5} textAnchor="middle" fontSize={15} fill="#2b4670">
        Tracking-Error
      </text>
      {basisPanels.map((p, r) => (
        <Panel key={"l" + r} side="left" row={r} ticks={p.ticks} mean={p.mean} peers={p.peers} />
      ))}
      {tePanels.map((p, r) => (
        <Panel key={"r" + r} side="right" row={r} ticks={p.ticks} mean={p.mean} peers={p.peers} />
      ))}
    </svg>
  );
}
